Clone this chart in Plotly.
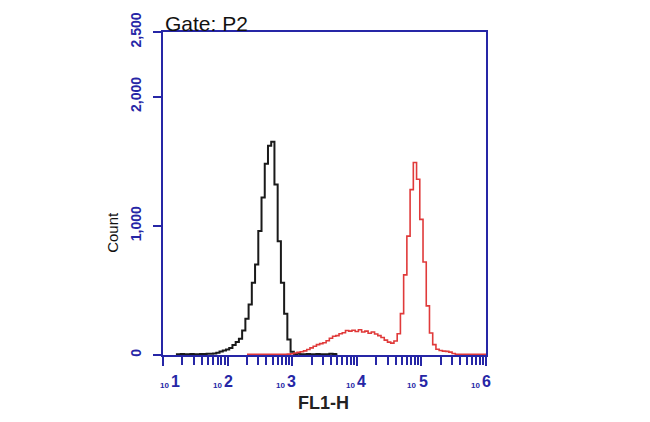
import plotly.graph_objects as go

# channel positions (log10 of FL1-H) and counts
black_log = [1.20, 1.25, 1.30, 1.35, 1.40, 1.45, 1.50, 1.55, 1.60, 1.65, 1.70, 1.75,
             1.80, 1.85, 1.90, 1.95, 2.00, 2.05, 2.10, 2.15, 2.20, 2.25, 2.30, 2.35,
             2.40, 2.45, 2.50, 2.55, 2.60, 2.65, 2.70, 2.75, 2.80, 2.85, 2.90, 2.95,
             3.00, 3.05, 3.10, 3.15, 3.20, 3.25, 3.30, 3.35, 3.40, 3.45, 3.50, 3.55,
             3.60, 3.65, 3.70]
black_cnt = [6, 6, 7, 6, 6, 7, 6, 6, 7, 8, 9, 10,
             12, 18, 28, 34, 42, 55, 78, 100, 125, 190, 280, 390,
             560, 700, 960, 1220, 1480, 1620, 1650, 1320, 880, 560, 320, 120,
             25, 8, 10, 6, 6, 7, 6, 6, 7, 6, 6, 6,
             9, 7, 6]

red_log = [2.30, 2.35, 2.40, 2.45, 2.50, 2.55, 2.60, 2.65, 2.70, 2.75, 2.80, 2.85,
           2.90, 2.95, 3.00, 3.05, 3.10, 3.15, 3.20, 3.25, 3.30, 3.35, 3.40, 3.45,
           3.50, 3.55, 3.60, 3.65, 3.70, 3.75, 3.80, 3.85, 3.90, 3.95, 4.00, 4.05,
           4.10, 4.15, 4.20, 4.25, 4.30, 4.35, 4.40, 4.45, 4.50, 4.55, 4.60, 4.65,
           4.70, 4.75, 4.80, 4.85, 4.90, 4.95, 5.00, 5.05, 5.10, 5.15, 5.20, 5.25,
           5.30, 5.35, 5.40, 5.45, 5.50, 5.55, 5.60, 5.65, 5.70, 5.75, 5.80, 5.85,
           5.90, 5.95, 6.00]
red_cnt = [6, 6, 6, 6, 6, 6, 6, 6, 6, 6, 6, 6,
           6, 7, 10, 15, 20, 25, 32, 42, 55, 68, 80, 88,
           95, 110, 130, 145, 150, 165, 172, 190, 185, 192, 182, 195,
           178, 185, 168, 178, 162, 150, 135, 115, 100, 92, 108, 165,
           320, 620, 920, 1280, 1490, 1360, 1050, 720, 380, 170, 80, 45,
           35, 30, 28, 22, 12, 6, 6, 6, 6, 6, 6, 6,
           6, 6, 6]

x_major = [1, 2, 3, 4, 5, 6]
x_base_text = "10"
x_exp_text = ["1", "2", "3", "4", "5", "6"]
y_ticks = [0, 1000, 2000, 2500]
y_text = ["0", "1,000", "2,000", "2,500"]

BLUE = "#2626a6"
# per-label horizontal nudges of the "10" base and its exponent (pixels)
base_shift = [1, -10, -12, -6, -10, -11]
exp_shift = [12, 1, -1, 5, 2, 0]

fig = go.Figure()
fig.add_trace(go.Scatter(x=[10 ** v for v in black_log], y=black_cnt, mode="lines",
                         line=dict(color="#1a1a1a", width=2, shape="hvh"),
                         showlegend=False, hoverinfo="skip"))
fig.add_trace(go.Scatter(x=[10 ** v for v in red_log], y=red_cnt, mode="lines",
                         line=dict(color="#e03a3a", width=1.6, shape="hvh"),
                         showlegend=False, hoverinfo="skip"))

minor_vals = [m * 10 ** e for e in range(1, 6) for m in range(2, 10)]

annotations = [
    dict(text="Gate: P2", xref="paper", yref="paper", x=0, y=1.025,
         xanchor="left", yanchor="middle", showarrow=False,
         font=dict(size=21, color="#111111")),
    dict(text="Count", xref="paper", yref="paper", x=-0.155, y=0.381,
         xanchor="center", yanchor="middle", textangle=-90, showarrow=False,
         font=dict(size=15, color="#111111")),
    dict(text="FL1-H", xref="paper", yref="paper", x=0.498, y=-0.149,
         xanchor="center", yanchor="middle", showarrow=False,
         font=dict(size=18, color="#222222", weight="bold")),
]
for i, e in enumerate(x_major):
    annotations.append(dict(text=x_base_text, xref="x", yref="paper", x=e, y=-0.0944,
                            xanchor="center", yanchor="middle", xshift=base_shift[i],
                            showarrow=False, borderpad=0,
                            font=dict(size=8, color=BLUE, weight="bold")))
    annotations.append(dict(text=x_exp_text[i], xref="x", yref="paper", x=e, y=-0.0805,
                            xanchor="center", yanchor="middle", xshift=exp_shift[i],
                            showarrow=False, borderpad=0,
                            font=dict(size=16, color=BLUE, weight="bold")))

fig.update_layout(
    width=650, height=422,
    margin=dict(l=163, r=164, t=32, b=67),
    paper_bgcolor="white", plot_bgcolor="white",
    font=dict(family="Liberation Sans, Arial, sans-serif"),
    xaxis=dict(type="log", range=[1, 6], showgrid=False, zeroline=False,
               showline=True, linecolor=BLUE, linewidth=2, mirror=True,
               layer="below traces",
               tickmode="array", tickvals=[10 ** e for e in x_major],
               showticklabels=False,
               ticks="outside", ticklen=9, tickwidth=2, tickcolor=BLUE,
               minor=dict(tickvals=minor_vals, ticks="outside", ticklen=8, tickwidth=1.5,
                          tickcolor=BLUE, showgrid=False)),
    yaxis=dict(range=[0, 2500], showgrid=False, zeroline=False,
               showline=True, linecolor=BLUE, linewidth=2, mirror=True,
               layer="below traces",
               tickmode="array", tickvals=y_ticks, ticktext=y_text,
               ticks="outside", ticklen=8, tickwidth=2, tickcolor=BLUE,
               tickangle=-90, ticklabelstandoff=6,
               tickfont=dict(size=14, color=BLUE, weight="bold")),
    annotations=annotations,
)

fig.write_html("out.html", post_script="document.body.style.margin='0';",
               config={"displayModeBar": False})
